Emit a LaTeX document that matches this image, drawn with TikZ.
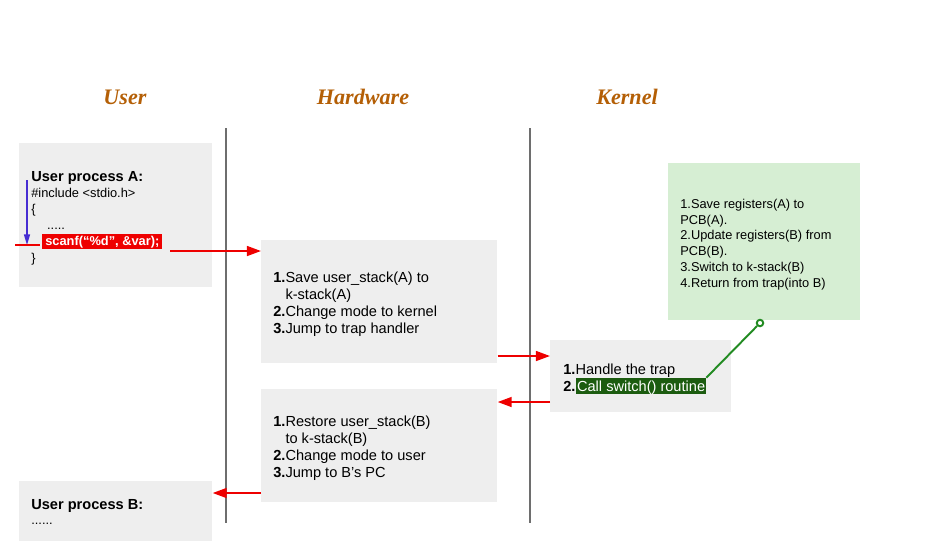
\documentclass[tikz,border=0pt]{standalone}
\usepackage{fontspec}
\setmainfont{Liberation Sans}
\newfontfamily\headserif{Liberation Serif}
\usetikzlibrary{arrows.meta}
\definecolor{boxgray}{RGB}{238,238,238}
\definecolor{pcbgreen}{RGB}{214,238,211}
\definecolor{headbrown}{RGB}{180,95,6}
\definecolor{arrowred}{RGB}{238,0,0}
\definecolor{pcblue}{RGB}{70,45,210}
\definecolor{hlgreen}{RGB}{28,92,16}
\definecolor{pingreen}{RGB}{34,139,34}
\definecolor{lanegray}{RGB}{110,110,110}

\begin{document}
\begin{tikzpicture}[x=0.02cm, y=-0.02cm,
		box/.style={fill=boxgray, inner sep=0pt, anchor=north west},
		body/.style={font=\fontsize{8.3}{9.64}\selectfont, align=left, inner sep=0pt, anchor=base west},
		small/.style={font=\fontsize{7.3}{9.24}\selectfont, align=left, inner sep=0pt, anchor=base west},
		heading/.style={font=\headserif\bfseries\itshape\fontsize{12.6}{14}\selectfont, text=headbrown},
		lane/.style={draw=lanegray, line width=0.7pt},
		redarrow/.style={draw=arrowred, line width=1.1pt, -{Triangle[length=8pt, width=5.6pt]}}]
			\useasboundingbox (0,0) rectangle (936,559);
			\node[heading] (huser) at (125,97) {User};
			\node[heading] (hhw) at (363,97) {Hardware};
			\node[heading] (hkern) at (627,97) {Kernel};
			\draw[lane] (226,128) -- (226,523);
			\draw[lane] (530,128) -- (530,523);
			\node[box, minimum width=3.86cm, minimum height=2.88cm] (userA) at (19,143) {};
			\node[box, minimum width=4.72cm, minimum height=2.46cm] (hwA) at (261,240) {};
			\node[box, minimum width=3.62cm, minimum height=1.44cm] (kern) at (550,340) {};
			\node[box, fill=pcbgreen, minimum width=3.84cm, minimum height=3.14cm] (pcb) at (668,163) {};
			\node[box, minimum width=4.72cm, minimum height=2.26cm] (hwB) at (261,389) {};
			\node[box, minimum width=3.86cm, minimum height=1.2cm] (userB) at (19,481) {};
			\node[body, font=\bfseries\fontsize{8.3}{9.64}\selectfont] (procA) at (31,181) {User process A:};
			\node[small] (codeA) at (31,262) {\#include <stdio.h>\\\{\\\hspace*{9pt}.....\\\\\}};
			\node[small, font=\bfseries\fontsize{7.3}{9.24}\selectfont, fill=arrowred, text=white, inner xsep=1.7pt, inner ysep=0.5pt, text height=5.9pt, text depth=1.6pt] (scanf) at (42,245) {scanf(“\%d”, \&var);};
			\coordinate (pcA) at (27,180);
			\draw[pcblue, line width=0.8pt, -{Triangle[length=6pt, width=3.4pt]}] (pcA) -- (pcA |- scanf.base);
			\coordinate (mark) at (15,245);
			\draw[arrowred, line width=0.8pt] (mark) -- ([xshift=-1.2pt]scanf.base west);
			\coordinate (trapA) at (170,251);
			\draw[redarrow] (trapA) -- (trapA -| hwA.west);
			\node[body] (hwAtxt) at (273,333) {\textbf{1.}Save user\_stack(A) to\\\phantom{\textbf{1.}}k-stack(A)\\\textbf{2.}Change mode to kernel\\\textbf{3.}Jump to trap handler};
			\draw[redarrow] (hwA.east |- 0,356) -- (kern.west |- 0,356);
			\node[body] (k1) at (563,374) {\textbf{1.}Handle the trap};
			\node[body] (k2) at (563,391) {\textbf{2.}};
			\node[body, fill=hlgreen, text=white, inner xsep=0.5pt, inner ysep=0.5pt, text height=6.9pt, text depth=1.2pt] (swcall) at (k2.base east) {Call switch() routine};
			\node[circle, draw=pingreen, fill=white, line width=1.1pt, inner sep=0pt, minimum size=0.13cm] (pin) at (760,323) {};
			\draw[pingreen, line width=1.1pt] (swcall.north east) -- (pin);
			\node[small, font=\fontsize{7.3}{8.96}\selectfont] (pcbtxt) at (680,287) {1.Save registers(A) to\\PCB(A).\\2.Update registers(B) from\\PCB(B).\\3.Switch to k-stack(B)\\4.Return from trap(into B)};
			\draw[redarrow] (kern.west |- 0,402) -- (hwB.east |- 0,402);
			\node[body] (hwBtxt) at (273,477) {\textbf{1.}Restore user\_stack(B)\\\phantom{\textbf{1.}}to k-stack(B)\\\textbf{2.}Change mode to user\\\textbf{3.}Jump to B’s PC};
			\draw[redarrow] (hwB.west |- 0,493) -- (userB.east |- 0,493);
			\node[body, font=\bfseries\fontsize{8.3}{9.64}\selectfont] (procB) at (31,509) {User process B:};
			\node[small] (dotsB) at (31,524) {......};
		\end{tikzpicture}
\end{document}
